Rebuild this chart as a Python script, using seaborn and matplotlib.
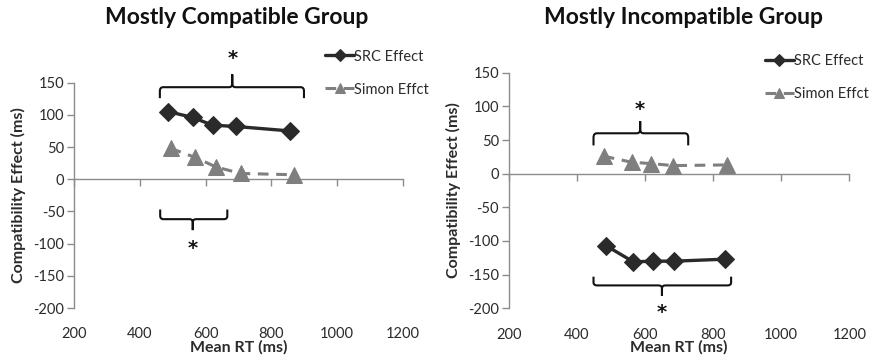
import numpy as np
import pandas as pd
import seaborn as sns
import matplotlib
matplotlib.use("Agg")
import matplotlib.pyplot as plt
from matplotlib.path import Path
from matplotlib.patches import PathPatch

# ---------------- data ----------------
titles = ["Mostly Compatible Group", "Mostly Incompatible Group"]
series_names = ["SRC Effect", "Simon Effct"]

mc_src_rt = [487, 561, 621, 692, 858]
mc_src_eff = [105, 96, 84, 82, 75]
mc_simon_rt = [494, 568, 632, 707, 869]
mc_simon_eff = [48, 34, 19, 9, 7]

mi_src_rt = [486, 566, 623, 686, 836]
mi_src_eff = [-107, -131, -130, -130, -127]
mi_simon_rt = [479, 561, 618, 683, 840]
mi_simon_eff = [26, 17, 15, 12, 13]

x_ticks = [200, 400, 600, 800, 1000, 1200]
y_ticks = [-200, -150, -100, -50, 0, 50, 100, 150]

# ---------------- style ----------------
sns.set_theme(style="white")
plt.rcParams["font.family"] = ["Lato", "DejaVu Sans"]
plt.rcParams["axes.unicode_minus"] = False

AXC = "#8c8c8c"
TXT = "#2b2b2b"
SRC_C = "#2a2a2a"
SIM_C = "#7f7f7f"

fig = plt.figure(figsize=(8.73, 3.64), dpi=100)
ax_pos = [
    [74 / 873, (364 - 308) / 364, 329 / 873, 225.3 / 364],
    [508.7 / 873, (364 - 308.3) / 364, 340.6 / 873, 235.6 / 364],
]
panels = [
    (mc_src_rt, mc_src_eff, mc_simon_rt, mc_simon_eff),
    (mi_src_rt, mi_src_eff, mi_simon_rt, mi_simon_eff),
]
# brackets: x0, x1, y_end, y_line, y_tip, xm, star_x, star_y
brackets = [
    [(461, 899, 126, 143, 163, 681, 681, 187), (462, 666, -47, -62, -79, 561, 561, -108)],
    [(449, 727, 42, 60, 78, 586, 586, 95), (449, 853, -153, -166, -181, 650, 650, -206)],
]
legend_anchor = [(0.745, 1.173), (0.735, 1.105)]
title_x = [237 / 873, 683 / 873]


def brace(ax, x0, x1, y_end, y_line, y_tip, xm):
    s = np.sign(y_tip - y_line)
    rx = 10
    ry = abs(y_line - y_end) * 0.35
    verts = [
        (x0, y_end), (x0, y_line - s * ry), (x0, y_line), (x0 + rx, y_line),
        (xm - rx, y_line), (xm, y_line), (xm, y_line + s * ry), (xm, y_tip),
        (xm, y_line + s * ry), (xm, y_line), (xm + rx, y_line),
        (x1 - rx, y_line), (x1, y_line), (x1, y_line - s * ry), (x1, y_end),
    ]
    codes = [Path.MOVETO, Path.LINETO, Path.CURVE3, Path.CURVE3,
             Path.LINETO, Path.CURVE3, Path.CURVE3, Path.LINETO,
             Path.LINETO, Path.CURVE3, Path.CURVE3,
             Path.LINETO, Path.CURVE3, Path.CURVE3, Path.LINETO]
    p = PathPatch(Path(verts, codes), fill=False, edgecolor="#111111",
                  linewidth=1.5, clip_on=False, transform=ax.transData)
    ax.add_patch(p)


for i in range(2):
    ax = fig.add_axes(ax_pos[i])
    src_x, src_y, sim_x, sim_y = panels[i]
    df_src = pd.DataFrame({"rt": src_x, "eff": src_y})
    df_sim = pd.DataFrame({"rt": sim_x, "eff": sim_y})
    sns.lineplot(data=df_src, x="rt", y="eff", ax=ax, color=SRC_C, marker="D",
                 markersize=9, markeredgecolor=SRC_C, linewidth=2.4,
                 sort=False, label=series_names[0], clip_on=False, zorder=4)
    sns.lineplot(data=df_sim, x="rt", y="eff", ax=ax, color=SIM_C, marker="^",
                 markersize=11, markeredgecolor=SIM_C, linewidth=2.2,
                 linestyle=(0, (3.5, 2.5)), sort=False, label=series_names[1],
                 clip_on=False, zorder=3)

    ax.set_xlim(200, 1200)
    ax.set_ylim(-200, 150)
    ax.set_yticks(y_ticks)
    ax.set_yticklabels([str(v) for v in y_ticks])
    ax.set_xticks(x_ticks)
    ax.set_xticklabels([str(v) for v in x_ticks])
    for side in ["top", "right", "bottom"]:
        ax.spines[side].set_visible(False)
    ax.spines["left"].set_color(AXC)
    ax.spines["left"].set_linewidth(1.0)
    ax.tick_params(axis="y", direction="out", length=5, width=1, color=AXC,
                   labelsize=10.5, labelcolor=TXT, pad=2, left=True)
    ax.tick_params(axis="x", length=0, labelsize=10.5, labelcolor=TXT, pad=14)

    # axis line at y = 0 with ticks pointing down
    frac = (0 - (-200)) / 350
    sec = ax.secondary_xaxis(frac)
    sec.set_alignment("bottom")
    sec.set_xticks(x_ticks)
    sec.set_xticklabels([])
    sec.spines["bottom"].set_visible(True)
    sec.spines["top"].set_visible(False)
    sec.spines["bottom"].set_color(AXC)
    sec.spines["bottom"].set_linewidth(1.0)
    sec.tick_params(axis="x", direction="out", length=5, width=1, color=AXC,
                    bottom=True, top=False)

    ax.set_xlabel("Mean RT (ms)", fontsize=11.5, fontweight="bold", color=TXT,
                  labelpad=-1)
    ax.set_ylabel("Compatibility Effect (ms)", fontsize=11.5, fontweight="bold",
                  color=TXT, labelpad=5)

    for (x0, x1, ye, yl, yt, xm, sx, sy) in brackets[i]:
        brace(ax, x0, x1, ye, yl, yt, xm)
        ax.text(sx, sy, "*", ha="center", va="center", fontsize=14,
                fontweight="bold", family="DejaVu Sans",
                color="#111111", clip_on=False)

    handles, labels = ax.get_legend_handles_labels()
    leg = ax.legend(handles, labels, loc="upper left",
                    bbox_to_anchor=legend_anchor[i], frameon=False,
                    fontsize=10.5, handlelength=2.0, handletextpad=0.0,
                    labelspacing=1.3, markerscale=0.7, borderaxespad=0)
    for t in leg.get_texts():
        t.set_color(TXT)

    fig.text(title_x[i], 1 - 18 / 364, titles[i], ha="center", va="center",
             fontsize=16.5, fontweight="bold", color="#111111")

fig.savefig("out.png", dpi=100)
